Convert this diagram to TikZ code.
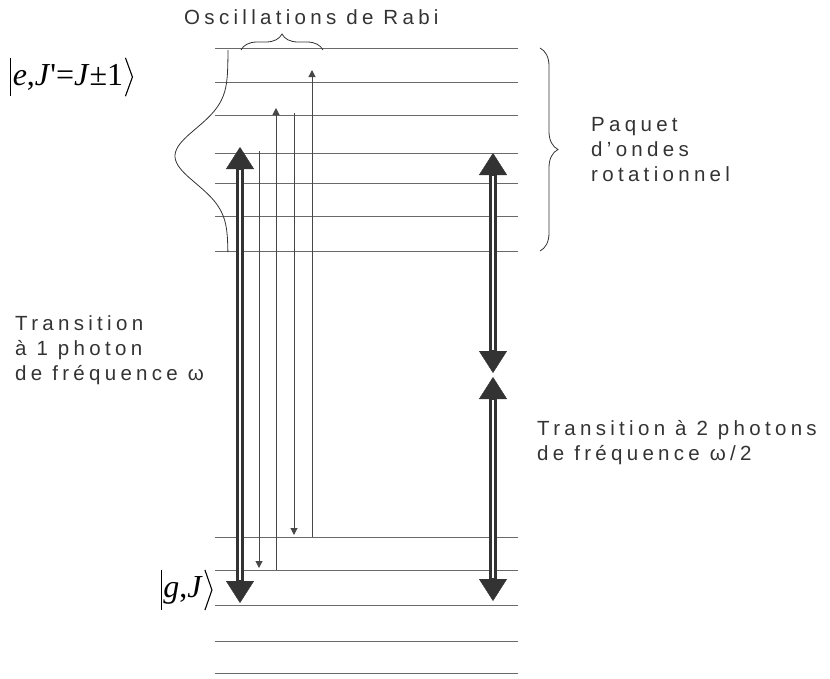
\documentclass[tikz,border=0pt]{standalone}
\usepackage{fontspec}
\setmainfont{Liberation Sans}
\newfontfamily\ketfont{Liberation Serif}
\usetikzlibrary{arrows.meta, positioning, decorations.pathreplacing}
\definecolor{ink}{HTML}{333333}
\definecolor{levelgray}{HTML}{6A6A6A}

\begin{document}
\begin{tikzpicture}[
    x=1pt, y=-1pt,
    level/.style={draw=levelgray, line width=0.9pt},
    pump/.style={draw=ink, line width=8pt,
      {Triangle[width=28pt,length=22pt,line width=0.4pt]}-{Triangle[width=28pt,length=22pt,line width=0.4pt]},
      postaction={draw=white, line width=2pt, arrows=-, shorten <=23pt, shorten >=23pt}},
    rabi/.style={draw=ink!90, line width=1pt, -{Triangle[width=7pt,length=7pt]}},
    curly/.style={draw=ink, line width=0.8pt, decorate, decoration={brace, amplitude=#1}},
    lbl/.style={font=\fontsize{20.5}{25}\selectfont\addfontfeatures{LetterSpace=21}, text=ink, align=left, inner sep=0pt},
    ket/.style={font=\fontsize{32}{36}\selectfont\ketfont, text=black, inner xsep=2pt, inner ysep=6pt},
    ketline/.style={draw=black, line width=1.1pt},
]
\useasboundingbox (0,0) rectangle (830,678);

% energy levels
\foreach \y in {48,82,115,153,183,216,251,537,570,605,641,673}
  \draw[level] (215,\y) -- (518,\y);

% end points of the transitions
\coordinate (pL1) at (240,147);
\coordinate (pL2) at (240,603);
\coordinate (pR1) at (493,153);
\coordinate (pR2) at (493,373);
\coordinate (pR3) at (493,377);
\coordinate (pR4) at (493,601);
\coordinate (d1a) at (259,151);
\coordinate (d1b) at (259,568);
\coordinate (u1a) at (276,570);
\coordinate (u1b) at (276,108);
\coordinate (d2a) at (294,113);
\coordinate (d2b) at (294,535);
\coordinate (u2a) at (312,537);
\coordinate (u2b) at (312,70);

\foreach \a/\b in {pL1/pL2, pR1/pR2, pR3/pR4}
  \draw[pump] (\a) -- (\b);
\foreach \a/\b in {d1a/d1b, u1a/u1b, d2a/d2b, u2a/u2b}
  \draw[rabi] (\a) -- (\b);

% envelope and braces
\draw[draw=ink, line width=0.8pt] plot[domain=50:252, samples=80, smooth]
  ({228-53*exp(-((\x-156)^2)/1500)}, \x);
\draw[curly=16pt] (241,50) -- (323,50);
\draw[curly=18pt] (540,48) -- (540,251);
\coordinate (ptip) at (558,150);

% states
\node[ket] (eket) at (68,77) {\textit{e},\textit{J}\textquotesingle=\textit{J}±1};
\draw[ketline] (eket.north west) -- (eket.south west);
\draw[ketline] (eket.north east) -- ([xshift=7pt]eket.east) -- (eket.south east);
\node[ket] (gket) at (183,590) {\textit{g},\textit{J}};
\draw[ketline] (gket.north west) -- (gket.south west);
\draw[ketline] (gket.north east) -- ([xshift=7pt]gket.east) -- (gket.south east);

% labels
\node[lbl, anchor=west] (rabitxt) at (184,17) {Oscillations de Rabi};
\node[lbl, right=33pt of ptip] (paquet) {Paquet\\d’ondes\\rotationnel};
\node[lbl, anchor=west] (onephot) at (15,350) {Transition\\à 1 photon\\de fréquence ω};
\node[lbl, anchor=west] (twophot) at (537,443) {Transition à 2 photons\\de fréquence ω/2};
\end{tikzpicture}
\end{document}
